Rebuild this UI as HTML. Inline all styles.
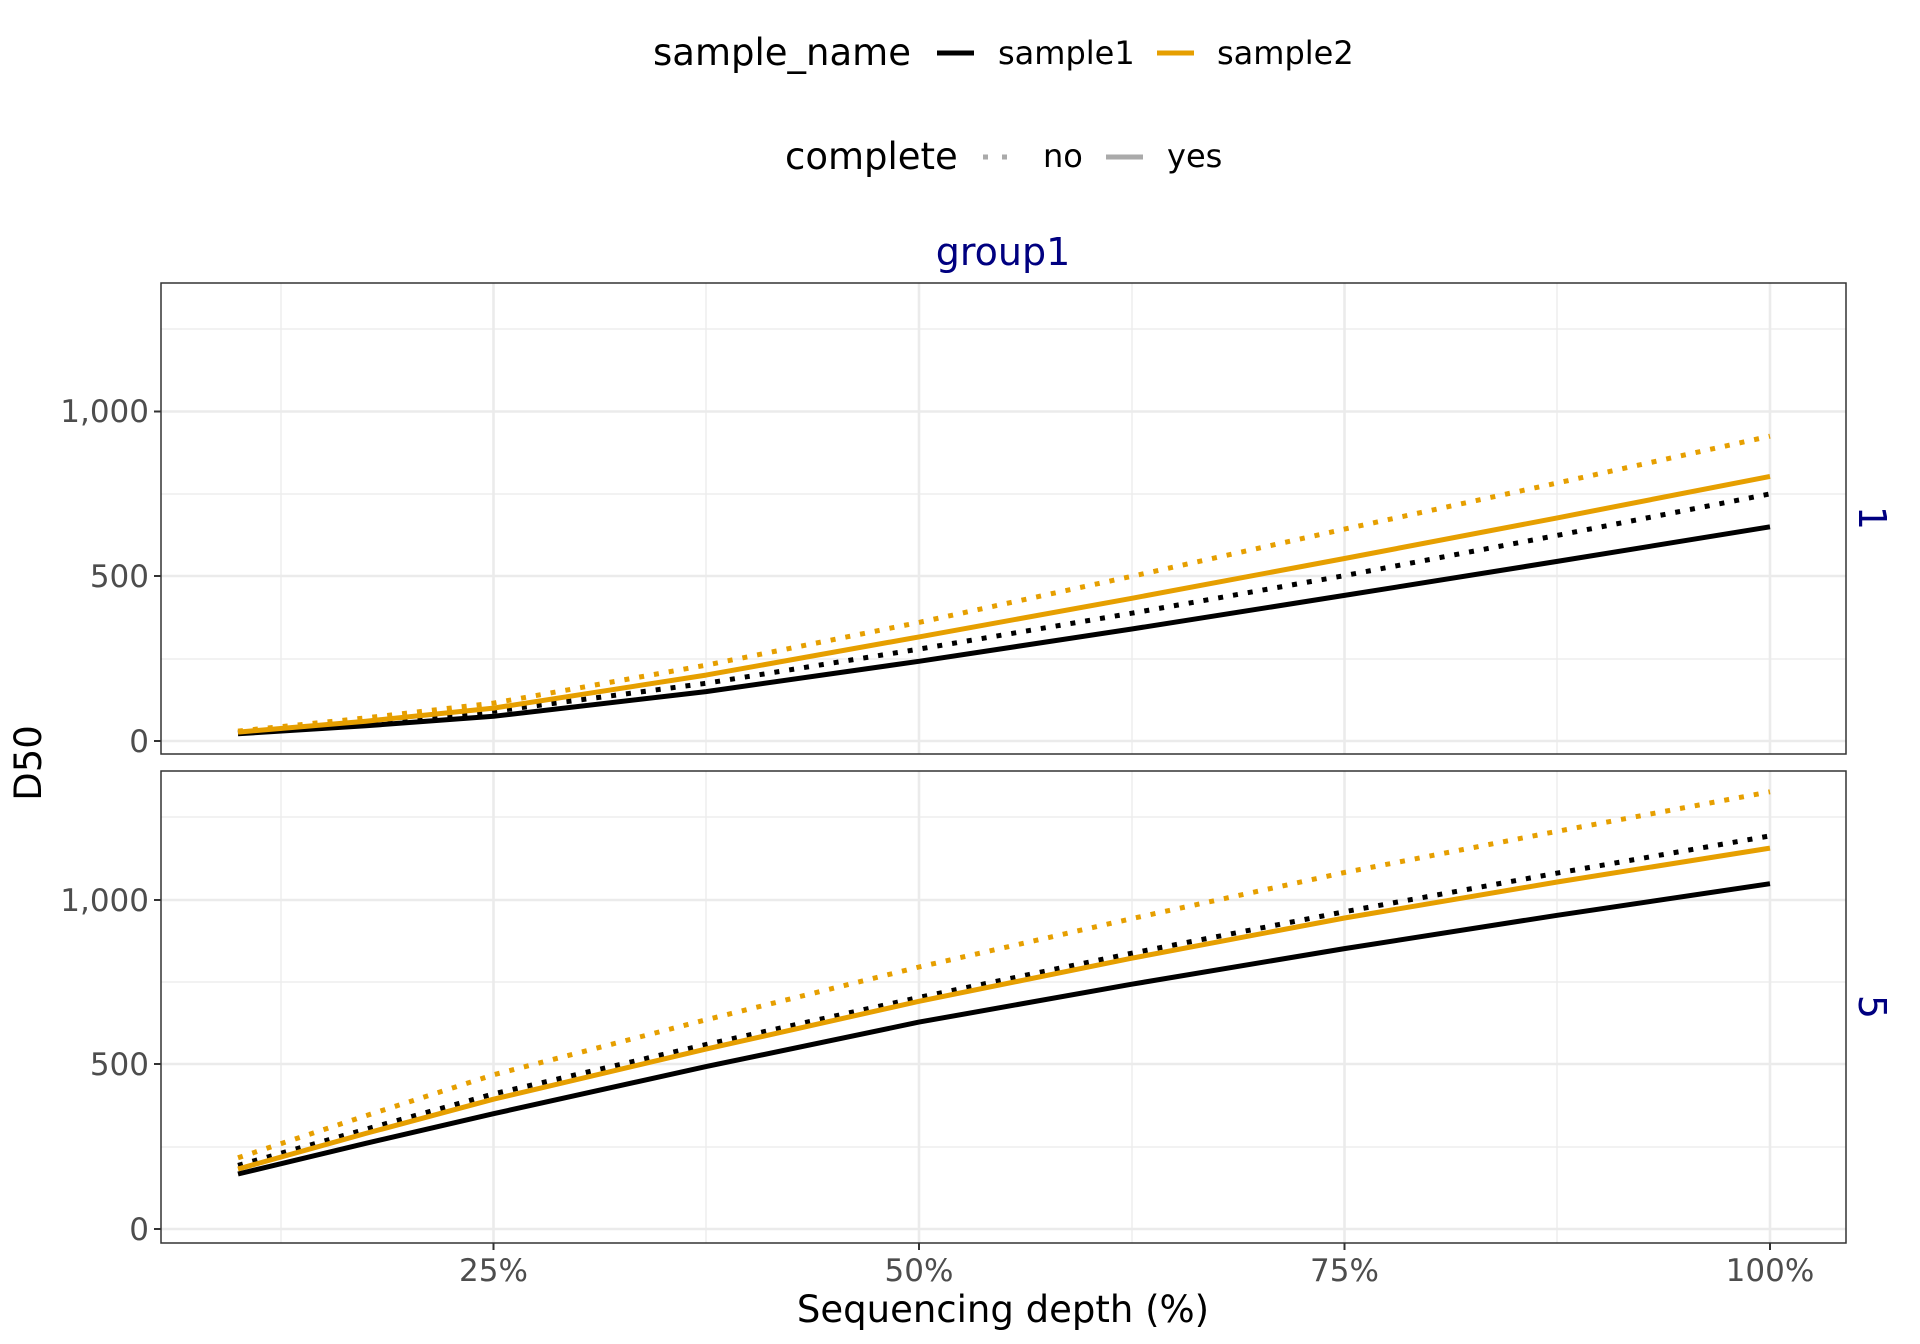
<!DOCTYPE html>
<html><head><meta charset="utf-8"><style>html,body{margin:0;padding:0;background:#fff}svg{display:block}</style></head>
<body>
<svg width="1920" height="1344" viewBox="0 0 1920 1344" xmlns="http://www.w3.org/2000/svg" font-family="DejaVu Sans, Liberation Sans, sans-serif">
<rect width="1920" height="1344" fill="#fff"/>
<!-- legend -->
<text x="653" y="65" font-size="37" fill="#000">sample_name</text>
<line x1="937" y1="53" x2="974" y2="53" stroke="#000" stroke-width="5"/>
<text x="998" y="64" font-size="32" fill="#000">sample1</text>
<line x1="1157" y1="53" x2="1194" y2="53" stroke="#E69F00" stroke-width="5"/>
<text x="1217" y="64" font-size="32" fill="#000">sample2</text>
<text x="785" y="169" font-size="37" fill="#000">complete</text>
<line x1="983" y1="157" x2="1016" y2="157" stroke="#aaa" stroke-width="5" stroke-dasharray="5 14"/>
<text x="1043" y="167" font-size="32" fill="#000">no</text>
<line x1="1106" y1="157" x2="1143" y2="157" stroke="#aaa" stroke-width="5"/>
<text x="1167" y="167" font-size="32" fill="#000">yes</text>
<text x="1003" y="265" font-size="38" fill="#000080" text-anchor="middle">group1</text>
<!-- panels -->
<g stroke="#ebebeb">
 <g stroke-width="1.3">
  <line x1="161" x2="1846" y1="329" y2="329"/><line x1="161" x2="1846" y1="494" y2="494"/><line x1="161" x2="1846" y1="659" y2="659"/>
  <line x1="161" x2="1846" y1="817" y2="817"/><line x1="161" x2="1846" y1="982" y2="982"/><line x1="161" x2="1846" y1="1147" y2="1147"/>
  <line x1="281" x2="281" y1="283" y2="754"/><line x1="706" x2="706" y1="283" y2="754"/><line x1="1132" x2="1132" y1="283" y2="754"/><line x1="1557" x2="1557" y1="283" y2="754"/>
  <line x1="281" x2="281" y1="771" y2="1243"/><line x1="706" x2="706" y1="771" y2="1243"/><line x1="1132" x2="1132" y1="771" y2="1243"/><line x1="1557" x2="1557" y1="771" y2="1243"/>
 </g>
 <g stroke-width="2.6">
  <line x1="161" x2="1846" y1="741" y2="741"/><line x1="161" x2="1846" y1="576" y2="576"/><line x1="161" x2="1846" y1="411.5" y2="411.5"/>
  <line x1="161" x2="1846" y1="1229" y2="1229"/><line x1="161" x2="1846" y1="1064" y2="1064"/><line x1="161" x2="1846" y1="900" y2="900"/>
  <line x1="493.5" x2="493.5" y1="283" y2="754"/><line x1="919" x2="919" y1="283" y2="754"/><line x1="1344.5" x2="1344.5" y1="283" y2="754"/><line x1="1770" x2="1770" y1="283" y2="754"/>
  <line x1="493.5" x2="493.5" y1="771" y2="1243"/><line x1="919" x2="919" y1="771" y2="1243"/><line x1="1344.5" x2="1344.5" y1="771" y2="1243"/><line x1="1770" x2="1770" y1="771" y2="1243"/>
 </g>
</g>
<g fill="none" stroke-width="5" stroke-linejoin="round">
 <polyline stroke="#000" points="238,733.8 365.9,725.8 493.5,716.3 706,691.6 919,661.3 1131.8,629 1344.5,595.4 1557.2,561.4 1770,526.8"/>
 <polyline stroke="#000" stroke-dasharray="5 10" points="238,732.8 365.9,722.9 493.5,711.3 706,683.3 919,649.1 1131.8,613.2 1344.5,575.6 1557.2,535.4 1770,493.9"/>
 <polyline stroke="#E69F00" points="238,732.1 365.9,721.2 493.5,708.1 706,675.1 919,636.9 1131.8,598.3 1344.5,558.5 1557.2,517.9 1770,476.4"/>
 <polyline stroke="#E69F00" stroke-dasharray="5 10" points="238,731.1 365.9,717.9 493.5,703.1 706,665.2 919,622.4 1131.8,576.3 1344.5,529.1 1557.2,483 1770,436.2"/>
 <polyline stroke="#000" points="238,1174 365.9,1143.3 493.5,1113.7 706,1066.6 919,1022.1 1131.8,984.2 1344.5,948.6 1557.2,915.3 1770,883.7"/>
 <polyline stroke="#000" stroke-dasharray="5 10" points="238,1165.4 365.9,1129.2 493.5,1093.9 706,1044.5 919,997.4 1131.8,953.2 1344.5,911.7 1557.2,873.1 1770,835.9"/>
 <polyline stroke="#E69F00" points="238,1169 365.9,1133.4 493.5,1099.2 706,1049.1 919,1001.3 1131.8,958.2 1344.5,918 1557.2,882 1770,848.1"/>
 <polyline stroke="#E69F00" stroke-dasharray="5 10" points="238,1157.8 365.9,1115.7 493.5,1074.8 706,1019.8 919,967 1131.8,918.6 1344.5,872.5 1557.2,831.3 1770,791.8"/>
</g>
<rect x="161" y="283" width="1685" height="471" fill="none" stroke="#333" stroke-width="1.5"/>
<rect x="161" y="771" width="1685" height="472" fill="none" stroke="#333" stroke-width="1.5"/>
<!-- ticks -->
<g stroke="#333" stroke-width="2">
 <line x1="154" x2="161" y1="741" y2="741"/><line x1="154" x2="161" y1="576" y2="576"/><line x1="154" x2="161" y1="411.5" y2="411.5"/>
 <line x1="154" x2="161" y1="1229" y2="1229"/><line x1="154" x2="161" y1="1064" y2="1064"/><line x1="154" x2="161" y1="900" y2="900"/>
 <line x1="493.5" x2="493.5" y1="1243" y2="1250"/><line x1="919" x2="919" y1="1243" y2="1250"/><line x1="1344.5" x2="1344.5" y1="1243" y2="1250"/><line x1="1770" x2="1770" y1="1243" y2="1250"/>
</g>
<g font-size="31" fill="#4d4d4d" text-anchor="end">
 <text x="149" y="752">0</text><text x="149" y="587">500</text><text x="149" y="422">1,000</text>
 <text x="149" y="1240">0</text><text x="149" y="1075">500</text><text x="149" y="911">1,000</text>
</g>
<g font-size="31" fill="#4d4d4d" text-anchor="middle">
 <text x="493.5" y="1281">25%</text><text x="919" y="1281">50%</text><text x="1344.5" y="1281">75%</text><text x="1770" y="1281">100%</text>
</g>
<text font-size="38" fill="#000080" text-anchor="middle" transform="translate(1859,518) rotate(90)">1</text>
<text font-size="38" fill="#000080" text-anchor="middle" transform="translate(1859,1007) rotate(90)">5</text>
<text font-size="37" fill="#000" text-anchor="middle" transform="translate(41,763) rotate(-90)">D50</text>
<text x="1003" y="1322" font-size="37" fill="#000" text-anchor="middle">Sequencing depth (%)</text>
</svg>
</body></html>
